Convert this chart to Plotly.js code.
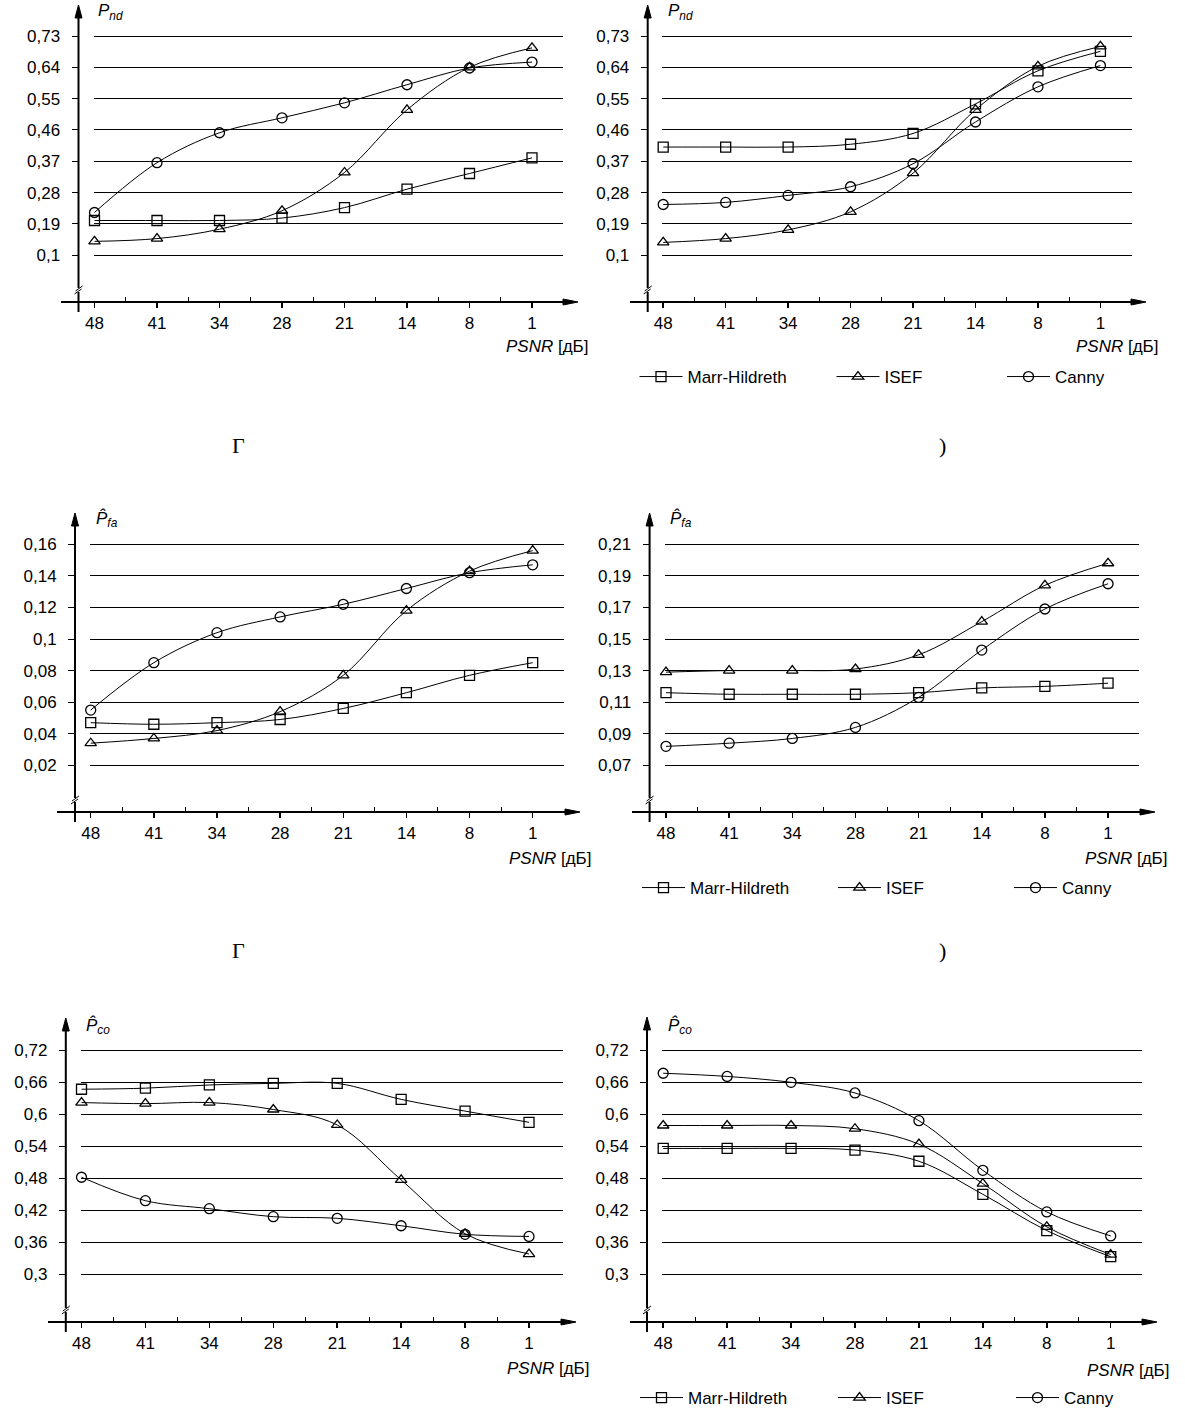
<!DOCTYPE html>
<html>
<head>
<meta charset="utf-8">
<script src="https://cdn.plot.ly/plotly-3.0.1.min.js"></script>
<style>html,body{margin:0;padding:0;background:#fff;} #chart{width:1185px;height:1427px;}</style>
</head>
<body>
<div id="chart"></div>
<script>
// ---------- DATA ----------
const psnrLabels = ['48','41','34','28','21','14','8','1'];
const seriesNames = ['Marr-Hildreth','ISEF','Canny'];

// P_nd
const pndTicks = [0.1,0.19,0.28,0.37,0.46,0.55,0.64,0.73];
const pndLeftMH    = [0.20,0.20,0.20,0.207,0.237,0.29,0.335,0.38];
const pndLeftISEF  = [0.14,0.148,0.175,0.228,0.338,0.518,0.64,0.696];
const pndLeftCanny = [0.223,0.366,0.452,0.495,0.538,0.59,0.638,0.655];
const pndRightMH    = [0.411,0.411,0.411,0.419,0.45,0.535,0.63,0.686];
const pndRightISEF  = [0.137,0.148,0.173,0.225,0.336,0.518,0.643,0.70];
const pndRightCanny = [0.246,0.252,0.272,0.297,0.363,0.483,0.584,0.645];

// P_fa
const pfaLeftTicks = [0.02,0.04,0.06,0.08,0.1,0.12,0.14,0.16];
const pfaRightTicks = [0.07,0.09,0.11,0.13,0.15,0.17,0.19,0.21];
const pfaLeftMH    = [0.047,0.046,0.047,0.049,0.056,0.066,0.077,0.085];
const pfaLeftISEF  = [0.034,0.037,0.042,0.054,0.077,0.118,0.143,0.156];
const pfaLeftCanny = [0.055,0.085,0.104,0.114,0.122,0.132,0.142,0.147];
const pfaRightMH    = [0.116,0.115,0.115,0.115,0.116,0.119,0.120,0.122];
const pfaRightISEF  = [0.129,0.130,0.130,0.131,0.140,0.161,0.184,0.198];
const pfaRightCanny = [0.082,0.084,0.087,0.094,0.113,0.143,0.169,0.185];

// P_co
const pcoTicks = [0.3,0.36,0.42,0.48,0.54,0.6,0.66,0.72];
const pcoLeftMH    = [0.647,0.649,0.655,0.658,0.658,0.628,0.606,0.585];
const pcoLeftISEF  = [0.622,0.620,0.622,0.609,0.580,0.477,0.376,0.338];
const pcoLeftCanny = [0.482,0.438,0.423,0.408,0.405,0.391,0.375,0.371];
const pcoRightMH    = [0.536,0.536,0.536,0.533,0.512,0.450,0.382,0.333];
const pcoRightISEF  = [0.579,0.579,0.579,0.573,0.544,0.470,0.389,0.337];
const pcoRightCanny = [0.677,0.671,0.660,0.640,0.588,0.495,0.417,0.372];

// ---------- LAYOUT GEOMETRY ----------
const W = 1185, H = 1427;
const fx = p => p / W;
const fy = p => 1 - p / H;
const FONT = 'Liberation Sans, Arial, sans-serif';
const symbols = ['square-open','triangle-up-open','circle-open'];

const panels = [
  {ax:78.5, tipY:5,   yl:302,  xs:61,  xt:578,  c0:94.5,  sp:62.5,  ge:562.6, v1:0.73, p1:36,    v2:0.1,  p2:255.3, ticks:pndTicks,
   series:[pndLeftMH,pndLeftISEF,pndLeftCanny], sub:'nd', hat:false, tx:96, ty:12, psx:590, psy:347, leg:null},
  {ax:647.7, tipY:5,  yl:302,  xs:630, xt:1146, c0:663.2, sp:62.46, ge:1131.6, v1:0.73, p1:36,   v2:0.1,  p2:255.3, ticks:pndTicks,
   series:[pndRightMH,pndRightISEF,pndRightCanny], sub:'nd', hat:false, tx:666, ty:12, psx:1160, psy:347,
   leg:{y:377, centers:[654.5,851.5,1022]}},
  {ax:75, tipY:513,   yl:812,  xs:57,  xt:580,  c0:90.7,  sp:63.14, ge:563.7, v1:0.16, p1:544.3, v2:0.02, p2:765.3, ticks:pfaLeftTicks,
   series:[pfaLeftMH,pfaLeftISEF,pfaLeftCanny], sub:'fa', hat:true, tx:94, ty:519, psx:593, psy:858, leg:null},
  {ax:649.6, tipY:513, yl:812, xs:632, xt:1155, c0:666,   sp:63.15, ge:1139, v1:0.21, p1:544.3, v2:0.07, p2:765.3, ticks:pfaRightTicks,
   series:[pfaRightMH,pfaRightISEF,pfaRightCanny], sub:'fa', hat:true, tx:668, ty:519, psx:1169, psy:858,
   leg:{y:888, centers:[657,853,1029]}},
  {ax:65.8, tipY:1018, yl:1322, xs:48, xt:576, c0:81.5,  sp:63.93, ge:562.6, v1:0.72, p1:1050.3, v2:0.3, p2:1274.3, ticks:pcoTicks,
   series:[pcoLeftMH,pcoLeftISEF,pcoLeftCanny], sub:'co', hat:true, tx:84, ty:1026, psx:591, psy:1368, leg:null},
  {ax:647, tipY:1017, yl:1322, xs:630, xt:1157, c0:663.2, sp:63.93, ge:1142, v1:0.72, p1:1050.3, v2:0.3, p2:1274.3, ticks:pcoTicks,
   series:[pcoRightMH,pcoRightISEF,pcoRightCanny], sub:'co', hat:true, tx:666, ty:1026, psx:1171, psy:1370,
   leg:{y:1398, centers:[655,853,1031]}}
];

const traces = [];
const layout = {
  width: W, height: H,
  margin: {l:0, r:0, t:0, b:0},
  paper_bgcolor: '#fff', plot_bgcolor: 'rgba(0,0,0,0)',
  showlegend: true,
  shapes: [], annotations: [],
  font: {family: FONT, color: '#000', size: 17}
};

const catIdx = psnrLabels.map((_, i) => i);
let legendCount = 0;

panels.forEach((P, k) => {
  const n = k + 1;
  const xa = 'xaxis' + (n === 1 ? '' : n), ya = 'yaxis' + (n === 1 ? '' : n);
  const xr = 'x' + (n === 1 ? '' : n), yr = 'y' + (n === 1 ? '' : n);
  const slope = (P.v2 - P.v1) / (P.p2 - P.p1);
  const yAt = p => P.v1 + (p - P.p1) * slope;

  layout[xa] = {
    domain: [fx(P.c0 - 1), fx(P.ge)],
    range: [-1 / P.sp, (P.ge - P.c0) / P.sp],
    anchor: yr,
    showline: false, showgrid: false, zeroline: false,
    tickmode: 'array', tickvals: catIdx, ticktext: psnrLabels,
    ticks: 'outside', ticklen: 5, tickwidth: 1.5, tickcolor: '#000',
    ticklabelstandoff: 1,
    tickfont: {family: FONT, size: 17, color: '#000'},
    minor: {tickmode: 'array', tickvals: [0.5,1.5,2.5,3.5,4.5,5.5,6.5], ticks: 'inside', ticklen: 5, tickwidth: 1, tickcolor: '#000', showgrid: false},
    fixedrange: true
  };
  layout[ya] = {
    domain: [fy(P.yl), fy(P.tipY)],
    range: [yAt(P.yl), yAt(P.tipY)],
    anchor: 'free', position: fx(P.ax), side: 'left',
    showline: false, zeroline: false,
    showgrid: true, gridcolor: '#000', gridwidth: 1,
    tickmode: 'array', tickvals: P.ticks, ticktext: P.ticks.map(v => String(v).replace('.', ',')),
    ticks: 'outside', ticklen: 7, tickwidth: 1, tickcolor: '#000',
    ticklabelstandoff: 8,
    tickfont: {family: FONT, size: 17, color: '#000'},
    fixedrange: true
  };

  P.series.forEach((vals, s) => {
    const t = {
      type: 'scatter', mode: 'lines+markers',
      x: catIdx, y: vals, xaxis: xr, yaxis: yr,
      name: seriesNames[s],
      line: {color: '#000', width: 1, shape: 'spline', smoothing: 1},
      marker: {symbol: symbols[s], size: 10, color: '#000', line: {width: 1.3, color: '#000'}},
      cliponaxis: false,
      showlegend: false, hoverinfo: 'skip'
    };
    if (P.leg) {
      legendCount++;
      const lname = 'legend' + (legendCount === 1 ? '' : legendCount);
      t.showlegend = true;
      t.legend = lname;
      layout[lname] = {
        x: fx(P.leg.centers[s] - 20), y: fy(P.leg.y),
        xanchor: 'left', yanchor: 'middle',
        orientation: 'h', bgcolor: 'rgba(0,0,0,0)', borderwidth: 0,
        itemwidth: 43,
        font: {family: FONT, size: 17, color: '#000'}
      };
    }
    traces.push(t);
  });

  // axis lines, arrows, break marks (decoration)
  const S = layout.shapes;
  S.push({type:'line', xref:'paper', yref:'paper', x0:fx(P.ax), x1:fx(P.ax), y0:fy(P.tipY + 10), y1:fy(P.yl + 10), line:{color:'#000', width:2}});
  S.push({type:'path', xref:'paper', yref:'paper', fillcolor:'#000', line:{color:'#000', width:1},
    path:`M ${fx(P.ax)} ${fy(P.tipY)} L ${fx(P.ax - 3.5)} ${fy(P.tipY + 13)} L ${fx(P.ax + 3.5)} ${fy(P.tipY + 13)} Z`});
  S.push({type:'line', xref:'paper', yref:'paper', x0:fx(P.xs), x1:fx(P.xt - 12), y0:fy(P.yl), y1:fy(P.yl), line:{color:'#000', width:2}});
  S.push({type:'path', xref:'paper', yref:'paper', fillcolor:'#000', line:{color:'#000', width:1},
    path:`M ${fx(P.xt)} ${fy(P.yl)} L ${fx(P.xt - 15)} ${fy(P.yl - 3)} L ${fx(P.xt - 15)} ${fy(P.yl + 3)} Z`});
  // break mark
  S.push({type:'rect', xref:'paper', yref:'paper', x0:fx(P.ax - 2), x1:fx(P.ax + 2), y0:fy(P.yl - 10), y1:fy(P.yl - 14), fillcolor:'#fff', line:{width:0}});
  S.push({type:'line', xref:'paper', yref:'paper', x0:fx(P.ax - 4), x1:fx(P.ax + 3), y0:fy(P.yl - 8), y1:fy(P.yl - 13), line:{color:'#000', width:1}});
  S.push({type:'line', xref:'paper', yref:'paper', x0:fx(P.ax - 3), x1:fx(P.ax + 4), y0:fy(P.yl - 11), y1:fy(P.yl - 16), line:{color:'#000', width:1}});

  // y-axis title (hat as a combining circumflex over P)
  const pLetter = P.hat ? 'P\u0302' : 'P';
  layout.annotations.push({xref:'paper', yref:'paper', x:fx(P.tx), y:fy(P.ty), xanchor:'left', yanchor:'middle', showarrow:false,
    text:`<i>${pLetter}</i><sub><i>${P.sub}</i></sub>`, font:{family:FONT, size:17, color:'#000'}});
  // x-axis title
  layout.annotations.push({xref:'paper', yref:'paper', x:fx(P.psx), y:fy(P.psy), xanchor:'right', yanchor:'middle', showarrow:false,
    text:'<i>PSNR</i> [дБ]', font:{family:FONT, size:17, color:'#000'}});
});

// remnants of the (mostly erased) figure captions
[445, 951].forEach(y => {
  layout.annotations.push({xref:'paper', yref:'paper', x:fx(238), y:fy(y), xanchor:'center', yanchor:'middle', showarrow:false,
    text:'Г', font:{family:'Liberation Serif, serif', size:22, color:'#000'}});
  layout.annotations.push({xref:'paper', yref:'paper', x:fx(942), y:fy(y), xanchor:'center', yanchor:'middle', showarrow:false,
    text:')', font:{family:'Liberation Serif, serif', size:22, color:'#000'}});
});

Plotly.newPlot('chart', traces, layout, {staticPlot: true, displayModeBar: false});
</script>
</body>
</html>
